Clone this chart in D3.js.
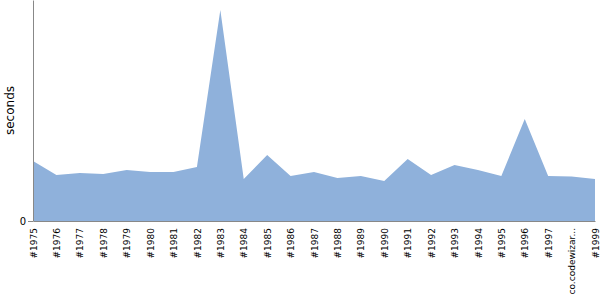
<!DOCTYPE html>
<html>
<head>
<meta charset="utf-8">
<script src="https://cdnjs.cloudflare.com/ajax/libs/d3/7.8.5/d3.min.js"></script>
<style>
  body { margin: 0; background: #fff; }
  svg text { font-family: 'DejaVu Sans', Verdana, sans-serif !important; }
</style>
</head>
<body>
<div id="chart"></div>
<script>
// categories and values (seconds)
const categories = ['#1975', '#1976', '#1977', '#1978', '#1979', '#1980', '#1981', '#1982',
  '#1983', '#1984', '#1985', '#1986', '#1987', '#1988', '#1989', '#1990', '#1991', '#1992',
  '#1993', '#1994', '#1995', '#1996', '#1997', 'co.codewizar...', '#1999'];
const seconds = [0.60, 0.46, 0.48, 0.47, 0.51, 0.49, 0.49, 0.54, 2.11, 0.42, 0.66, 0.45,
  0.49, 0.43, 0.45, 0.40, 0.62, 0.46, 0.56, 0.51, 0.45, 1.02, 0.45, 0.445, 0.42];
const yTicks = [0];

const width = 600, height = 300;
const margin = { top: 0, right: 5, bottom: 79, left: 33 };

const svg = d3.select('#chart').append('svg')
  .attr('width', width)
  .attr('height', height);

const x = d3.scalePoint()
  .domain(categories)
  .range([margin.left, width - margin.right]);

const y = d3.scaleLinear()
  .domain([0, 2.21])
  .range([height - margin.bottom, margin.top]);

const area = d3.area()
  .x((d, i) => x(categories[i]))
  .y0(y(0))
  .y1(d => y(d));

svg.append('path')
  .datum(seconds)
  .attr('fill', '#8fb1db')
  .attr('d', area);

// x axis
const xAxis = svg.append('g')
  .attr('transform', `translate(0,${y(0)})`)
  .call(d3.axisBottom(x).tickSize(0).tickPadding(5));
xAxis.select('.domain').attr('stroke', '#888');
xAxis.selectAll('text')
  .attr('font-size', 9)
  .attr('fill', '#000')
  .attr('transform', 'rotate(-90)')
  .attr('text-anchor', 'end')
  .attr('x', -7)
  .attr('y', 0)
  .attr('dy', '0.35em');

// y axis
const yAxis = svg.append('g')
  .attr('transform', `translate(${margin.left},0)`)
  .call(d3.axisLeft(y).tickValues(yTicks).tickFormat(d3.format('d'))
    .tickSize(5).tickSizeOuter(0).tickPadding(2));
yAxis.select('.domain').attr('stroke', '#888');
yAxis.selectAll('.tick line').attr('stroke', '#888');
yAxis.selectAll('text').attr('font-size', 10).attr('fill', '#000');

svg.append('text')
  .attr('transform', `translate(14,${(margin.top + y(0)) / 2}) rotate(-90)`)
  .attr('text-anchor', 'middle')
  .attr('font-size', 12)
  .attr('fill', '#000')
  .text('seconds');
</script>
</body>
</html>
